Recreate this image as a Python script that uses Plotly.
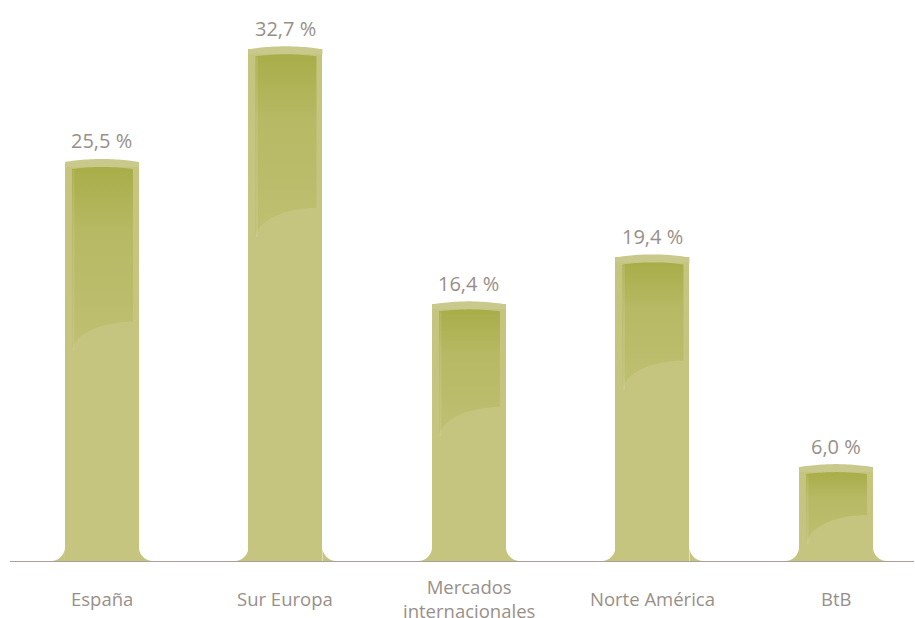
import numpy as np
import plotly.graph_objects as go

# --- data -------------------------------------------------------------
categories = ["España", "Sur Europa", "Mercados<br>internacionales", "Norte América", "BtB"]
shares = [25.5, 32.7, 16.4, 19.4, 6.0]

# --- style ------------------------------------------------------------
W, H = 915, 618
M_L, M_R, M_T, M_B = 10, 1, 0, 57
X_RANGE = [-0.501, 4.425]
Y_RANGE = [0.0, 35.85]
PX_X = (X_RANGE[1] - X_RANGE[0]) / (W - M_L - M_R)   # data units per pixel (x)
PX_Y = (Y_RANGE[1] - Y_RANGE[0]) / (H - M_T - M_B)   # data units per pixel (y)

BAR_W = 74 * PX_X
BODY = "rgb(197,197,128)"
CAP = "rgb(200,201,138)"
PANEL_TOP = "rgb(169,173,72)"
PANEL_MID = "rgb(183,185,100)"
PANEL_BOTTOM = "rgb(191,192,114)"
TEXT = "rgb(152,143,138)"
AXIS = "rgb(170,160,155)"
FONT = "Open Sans"
sheen_depth = [0.40, 0.31, 0.40, 0.34, 0.51]   # fraction of bar height covered by the darker panel

idx = list(range(len(categories)))
fig = go.Figure()

# bar bodies
fig.add_trace(go.Bar(x=idx, y=shares, width=BAR_W, marker=dict(color=BODY, line=dict(width=0)),
                     hoverinfo="skip", showlegend=False))


def arc(cx, cy, rx, ry, a0, a1, n=24):
    t = np.linspace(a0, a1, n)
    return list(cx + rx * np.cos(t)), list(cy + ry * np.sin(t))


for i, v in zip(idx, shares):
    x0, x1 = i - BAR_W / 2, i + BAR_W / 2

    # flared feet where the bar meets the baseline
    r = 14
    fx, fy = [], []
    ax, ay = arc(x0 - r * PX_X, r * PX_Y, r * PX_X, r * PX_Y, -np.pi / 2, 0)
    fx += ax + [x0, ax[0], None]
    fy += ay + [0, 0, None]
    ax, ay = arc(x1 + r * PX_X, r * PX_Y, r * PX_X, r * PX_Y, np.pi, 3 * np.pi / 2)
    fx += ax + [x1, None]
    fy += ay + [0, None]
    fig.add_trace(go.Scatter(x=fx, y=fy, fill="toself", fillcolor=BODY, mode="none",
                             hoverinfo="skip", showlegend=False))

    # rounded top rim
    tx = list(np.linspace(x0, x1, 30))
    u = np.linspace(-1, 1, 30)
    ty = list(v + 3 * PX_Y * (1 - u ** 2))
    cx_ = tx + [x1, x0]
    cy_ = ty + [v - 5 * PX_Y, v - 5 * PX_Y]
    fig.add_trace(go.Scatter(x=cx_, y=cy_, fill="toself", fillcolor=CAP, mode="none",
                             hoverinfo="skip", showlegend=False))

    # darker inner panel with vertical shading and curved lower edge
    pl, pr = x0 + 7 * PX_X, x1 - 6 * PX_X
    ptop = v - 7 * PX_Y
    pbot_r = v - sheen_depth[i] * v
    drop = 31 * PX_Y
    px = list(np.linspace(pl, pr, 30))
    py = list(ptop + 2 * PX_Y * (1 - np.linspace(-1, 1, 30) ** 2))
    # right edge down, then the sweeping curve back to the left edge
    px += [pr]
    py += [pbot_r]
    t = np.linspace(np.pi / 2, np.pi, 30)
    rx = (pr - pl)
    px += list(pr + rx * np.cos(t))
    py += list(pbot_r - drop + drop * np.sin(t))
    px += [pl]
    py += [py[0]]
    fig.add_trace(go.Scatter(
        x=px, y=py, fill="toself", mode="none",
        fillgradient=dict(type="vertical",
                          colorscale=[[0, PANEL_BOTTOM], [0.65, PANEL_MID], [1, PANEL_TOP]]),
        hoverinfo="skip", showlegend=False))

    # thin light strip along the left inside edge of the panel
    fig.add_trace(go.Scatter(x=[pl + 1.5 * PX_X, pl + 1.5 * PX_X],
                             y=[ptop - 1 * PX_Y, pbot_r - drop + 2 * PX_Y],
                             mode="lines", line=dict(color="rgba(255,255,255,0.10)", width=2),
                             hoverinfo="skip", showlegend=False))

# value labels
for i, v in zip(idx, shares):
    fig.add_annotation(x=i, y=v, text=f"{v:.1f}".replace(".", ",") + " %", showarrow=False,
                       yanchor="middle", yshift=21, font=dict(family=FONT, size=20, color=TEXT))

# category labels
for i, c in zip(idx, categories):
    fig.add_annotation(x=i, y=0, text=c, showarrow=False, yanchor="middle", yshift=-37,
                       font=dict(family=FONT, size=18.5, color=TEXT))

fig.update_layout(
    width=W, height=H, margin=dict(l=M_L, r=M_R, t=M_T, b=M_B),
    paper_bgcolor="white", plot_bgcolor="white",
    xaxis=dict(range=X_RANGE, showgrid=False, zeroline=False, showticklabels=False,
               showline=True, linecolor=AXIS, linewidth=1, ticks=""),
    yaxis=dict(range=Y_RANGE, showgrid=False, zeroline=False, showticklabels=False, visible=False),
    bargap=0,
)
fig.write_html("out.html")
